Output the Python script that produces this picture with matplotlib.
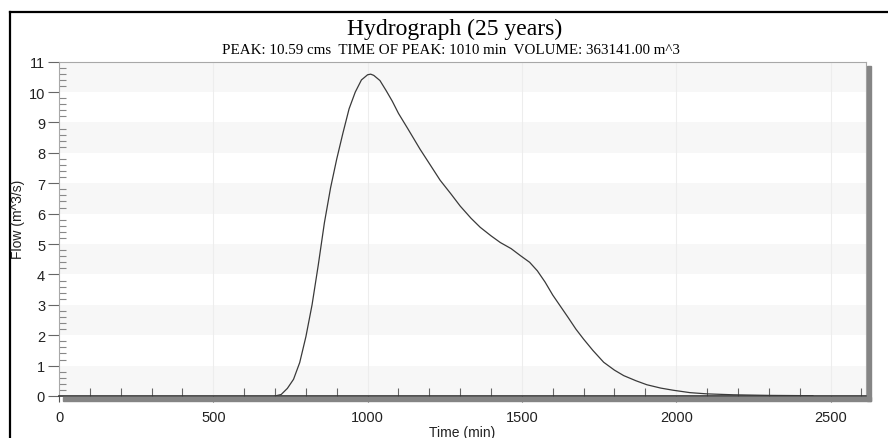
import matplotlib
matplotlib.use("Agg")
import matplotlib.pyplot as plt
from matplotlib.patches import Rectangle
from matplotlib.lines import Line2D
from matplotlib.ticker import MultipleLocator

# ---- data ----
time_min = [700, 720, 740, 760, 780, 800, 820, 840, 860, 880, 900, 920, 940, 960,
            980, 1000, 1010, 1020, 1040, 1060, 1080, 1100, 1130, 1170, 1200, 1235,
            1270, 1300, 1335, 1365, 1400, 1430, 1465, 1495, 1525, 1550, 1575, 1600,
            1625, 1650, 1675, 1700, 1730, 1765, 1800, 1830, 1870, 1905, 1950, 1990,
            2045, 2100, 2185, 2300, 2443]
flow_cms = [0.0, 0.05, 0.25, 0.55, 1.1, 1.95, 3.0, 4.3, 5.7, 6.85, 7.8, 8.65, 9.45, 10.0,
            10.4, 10.57, 10.59, 10.55, 10.38, 10.05, 9.7, 9.3, 8.8, 8.12, 7.65, 7.1,
            6.65, 6.25, 5.85, 5.55, 5.27, 5.05, 4.85, 4.62, 4.4, 4.12, 3.75, 3.32,
            2.95, 2.58, 2.2, 1.87, 1.5, 1.11, 0.85, 0.67, 0.5, 0.37, 0.26, 0.19,
            0.11, 0.07, 0.04, 0.02, 0.01]

title = "Hydrograph (25 years)"
subtitle = "PEAK: 10.59 cms  TIME OF PEAK: 1010 min  VOLUME: 363141.00 m^3"
xlabel = "Time (min)"
ylabel = "Flow (m^3/s)"
x_major = [0, 500, 1000, 1500, 2000, 2500]
y_major = list(range(0, 12))

W, H = 888, 439
fig = plt.figure(figsize=(W / 100, H / 100), dpi=100)
fig.patch.set_facecolor("white")

def fx(px):
    return px / W

def fy(py):
    return 1 - py / H

L, R, T, B = 59, 866, 62.7, 397
ax = fig.add_axes([fx(L), fy(B), fx(R) - fx(L), fy(T) - fy(B)])
ax.set_xlim(0, 2615)
ax.set_ylim(0, 11)

# alternating bands
for k in range(0, 11, 2):
    ax.axhspan(k, k + 1, color="#f7f7f7", zorder=0, lw=0)
for xv in x_major[1:]:
    ax.axvline(xv, color="#ededed", lw=0.8, zorder=0.5)

ax.plot(time_min, flow_cms, color="#3a3a3a", lw=0.9, zorder=3,
        solid_joinstyle="round")

# spines
for s in ["top", "right", "left"]:
    ax.spines[s].set_color("#a8a8a8")
    ax.spines[s].set_linewidth(0.8)
ax.spines["bottom"].set_color("#333333")
ax.spines["bottom"].set_linewidth(1.2)

ax.xaxis.set_major_locator(MultipleLocator(500))
ax.xaxis.set_minor_locator(MultipleLocator(100))
ax.yaxis.set_major_locator(MultipleLocator(1))
ax.yaxis.set_minor_locator(MultipleLocator(0.2))
ax.set_xticks(x_major)
ax.set_yticks(y_major)
ax.tick_params(axis="x", which="major", direction="out", length=4, width=0.8,
               color="#555555", pad=6, labelsize=10.5, labelcolor="#222222")
ax.tick_params(axis="x", which="minor", direction="in", length=6, width=0.8,
               color="#666666")
ax.tick_params(axis="y", which="major", direction="out", length=8, width=0.8,
               color="#666666", pad=2, labelsize=10.5, labelcolor="#222222")
ax.tick_params(axis="y", which="minor", direction="in", length=5, width=0.8,
               color="#888888")
for lab in ax.get_xticklabels() + ax.get_yticklabels():
    lab.set_fontfamily("Liberation Sans")

# shadow
fig.patches.append(Rectangle((fx(866.5), fy(401.5)), fx(4), fy(67) - fy(401.5),
                             transform=fig.transFigure, color="#858585", zorder=1))
fig.patches.append(Rectangle((fx(63), fy(401.5)), fx(870.5) - fx(63), fy(397.5) - fy(401.5),
                             transform=fig.transFigure, color="#858585", zorder=1))

# outer frame
fig.add_artist(Line2D([fx(10), fx(888)], [fy(13), fy(13)], color="black", lw=1.6,
                      transform=fig.transFigure))
fig.add_artist(Line2D([fx(10), fx(10)], [fy(13), fy(440)], color="black", lw=1.6,
                      transform=fig.transFigure))

fig.text(fx(455), fy(35), title, ha="center", va="baseline", fontsize=17,
         family="Liberation Serif", color="black")
fig.text(fx(450.5), fy(54), subtitle, ha="center", va="baseline", fontsize=10.8,
         family="Liberation Serif", color="black")
fig.text(fx(462), fy(437.5), xlabel, ha="center", va="baseline", fontsize=10,
         family="Liberation Sans", color="#222222")
fig.text(fx(18), fy(219), ylabel, ha="center", va="center", rotation=90,
         fontsize=10, family="Liberation Sans", color="#222222")

fig.savefig("out.png", dpi=100)
